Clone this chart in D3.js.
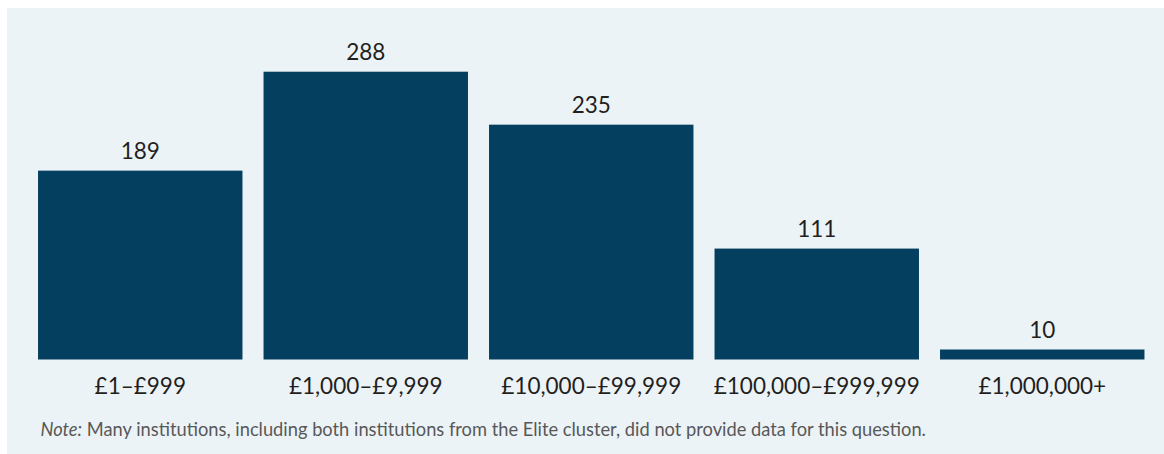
<!DOCTYPE html>
<html>
<head>
<meta charset="utf-8">
<script src="https://cdn.jsdelivr.net/npm/d3@7"></script>
<style>
  html, body { margin: 0; padding: 0; background: #ffffff; }
  svg { display: block; font-family: Lato, "Open Sans", sans-serif; }
</style>
</head>
<body>
<svg id="chart" width="1164" height="454"></svg>
<script>
// Donation bands and number of institutions in each band
const categories = ["£1–£999", "£1,000–£9,999", "£10,000–£99,999", "£100,000–£999,999", "£1,000,000+"];
const counts = [189, 288, 235, 111, 10];
const noteLabel = "Note:";
const noteText = " Many institutions, including both institutions from the Elite cluster, did not provide data for this question.";

const width = 1164, height = 454;
const svg = d3.select("#chart");

// Panel background
svg.append("rect")
  .attr("x", 7).attr("y", 8)
  .attr("width", width - 7).attr("height", height - 8)
  .attr("fill", "#ecf3f7");

const baseline = 359.5;
const x = d3.scaleBand()
  .domain(categories)
  .range([27.5, 1155])
  .paddingInner(0.0934)
  .paddingOuter(0.0467);

const y = d3.scaleLinear()
  .domain([0, 288])
  .range([baseline, 71.7]);

const data = categories.map((c, i) => ({ cat: c, value: counts[i] }));

// Bars
svg.append("g").selectAll("rect")
  .data(data)
  .join("rect")
  .attr("x", d => x(d.cat))
  .attr("y", d => y(d.value))
  .attr("width", x.bandwidth())
  .attr("height", d => y(0) - y(d.value))
  .attr("fill", "#053f5f");

// Value labels above bars
svg.append("g").selectAll("text")
  .data(data)
  .join("text")
  .attr("x", d => x(d.cat) + x.bandwidth() / 2)
  .attr("y", d => y(d.value) - 12)
  .attr("text-anchor", "middle")
  .attr("font-size", 22.5)
  .attr("fill", "#231f20")
  .text(d => d.value);

// Category axis (labels only)
const xAxis = svg.append("g")
  .attr("transform", `translate(0,${baseline})`)
  .call(d3.axisBottom(x).tickSize(0).tickPadding(0));
xAxis.select(".domain").remove();
xAxis.selectAll("text")
  .attr("dy", null)
  .attr("y", 34.5)
  .attr("font-size", 22.5)
  .attr("font-family", "Lato, 'Open Sans', sans-serif")
  .attr("fill", "#231f20");

// Footnote
const note = svg.append("text")
  .attr("x", 40.5)
  .attr("y", 436)
  .attr("font-size", 18.3)
  .attr("fill", "#585858");
note.append("tspan").attr("font-style", "italic").text(noteLabel);
note.append("tspan").text(noteText);
</script>
</body>
</html>
